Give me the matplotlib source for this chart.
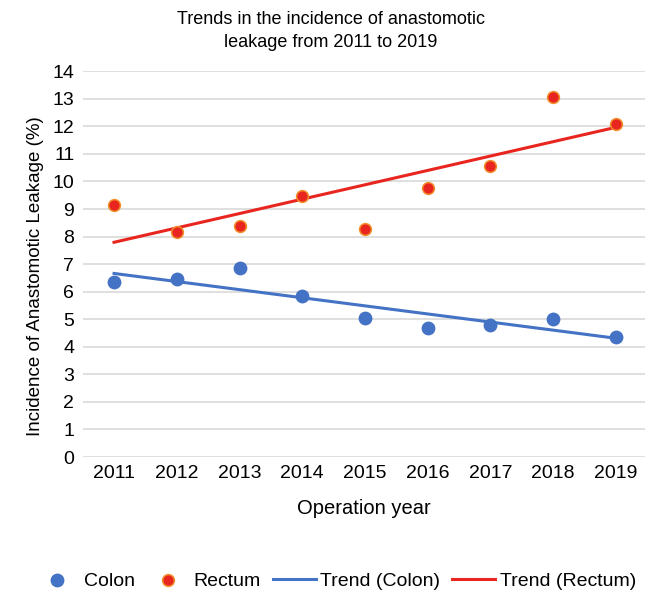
import numpy as np
import matplotlib.pyplot as plt

plt.rcParams["font.family"] = ["Liberation Sans", "DejaVu Sans"]

# Data
years = [2011, 2012, 2013, 2014, 2015, 2016, 2017, 2018, 2019]
colon = [6.35, 6.45, 6.87, 5.83, 5.05, 4.68, 4.8, 5.0, 4.35]
rectum = [9.13, 8.17, 8.37, 9.46, 8.28, 9.78, 10.55, 13.08, 12.1]

blue = "#4472C4"
red = "#E8251F"
orange = "#F28E2B"

fig = plt.figure(figsize=(6.46, 5.94), dpi=100)
ax = fig.add_axes([0.128, 0.2306, 0.87, 0.6494])

# Linear trends
x = np.array(years)
c_fit = np.polyval(np.polyfit(x, colon, 1), x)
r_fit = np.polyval(np.polyfit(x, rectum, 1), x)

ax.scatter(years, colon, s=80, color=blue, zorder=3, label="Colon")
ax.scatter(years, rectum, s=72, color=red, edgecolor=orange, linewidth=1.1,
           zorder=3, label="Rectum")
ax.plot(x, c_fit, color=blue, lw=2.2, zorder=2, label="Trend (Colon)")
ax.plot(x, r_fit, color=red, lw=2.2, zorder=2, label="Trend (Rectum)")

ax.set_xlim(2010.5, 2019.46)
ax.set_ylim(0, 14)
ax.set_yticks(range(0, 15))
ax.set_xticks(years)
ax.tick_params(length=0, labelsize=14, pad=6)
ax.grid(axis="y", color="#d9d9d9", lw=1.2)
ax.set_axisbelow(True)
for s in ax.spines.values():
    s.set_visible(False)

ax.set_xlabel("Operation year", fontsize=14.5, labelpad=12)
ax.set_ylabel("Incidence of Anastomotic Leakage (%)", fontsize=13.5)
ax.yaxis.set_label_coords(-0.068, 0.47)
fig.text(0.512, 0.982, "Trends in the incidence of anastomotic\nleakage from 2011 to 2019",
         ha="center", va="top", fontsize=13, linespacing=1.5)

fig.legend(loc="lower center", bbox_to_anchor=(0.52, -0.022), ncol=4, frameon=False,
           fontsize=14, handlelength=2.2, columnspacing=0.6, handletextpad=0.25,
           scatterpoints=1)

fig.savefig("out.png", dpi=100)
